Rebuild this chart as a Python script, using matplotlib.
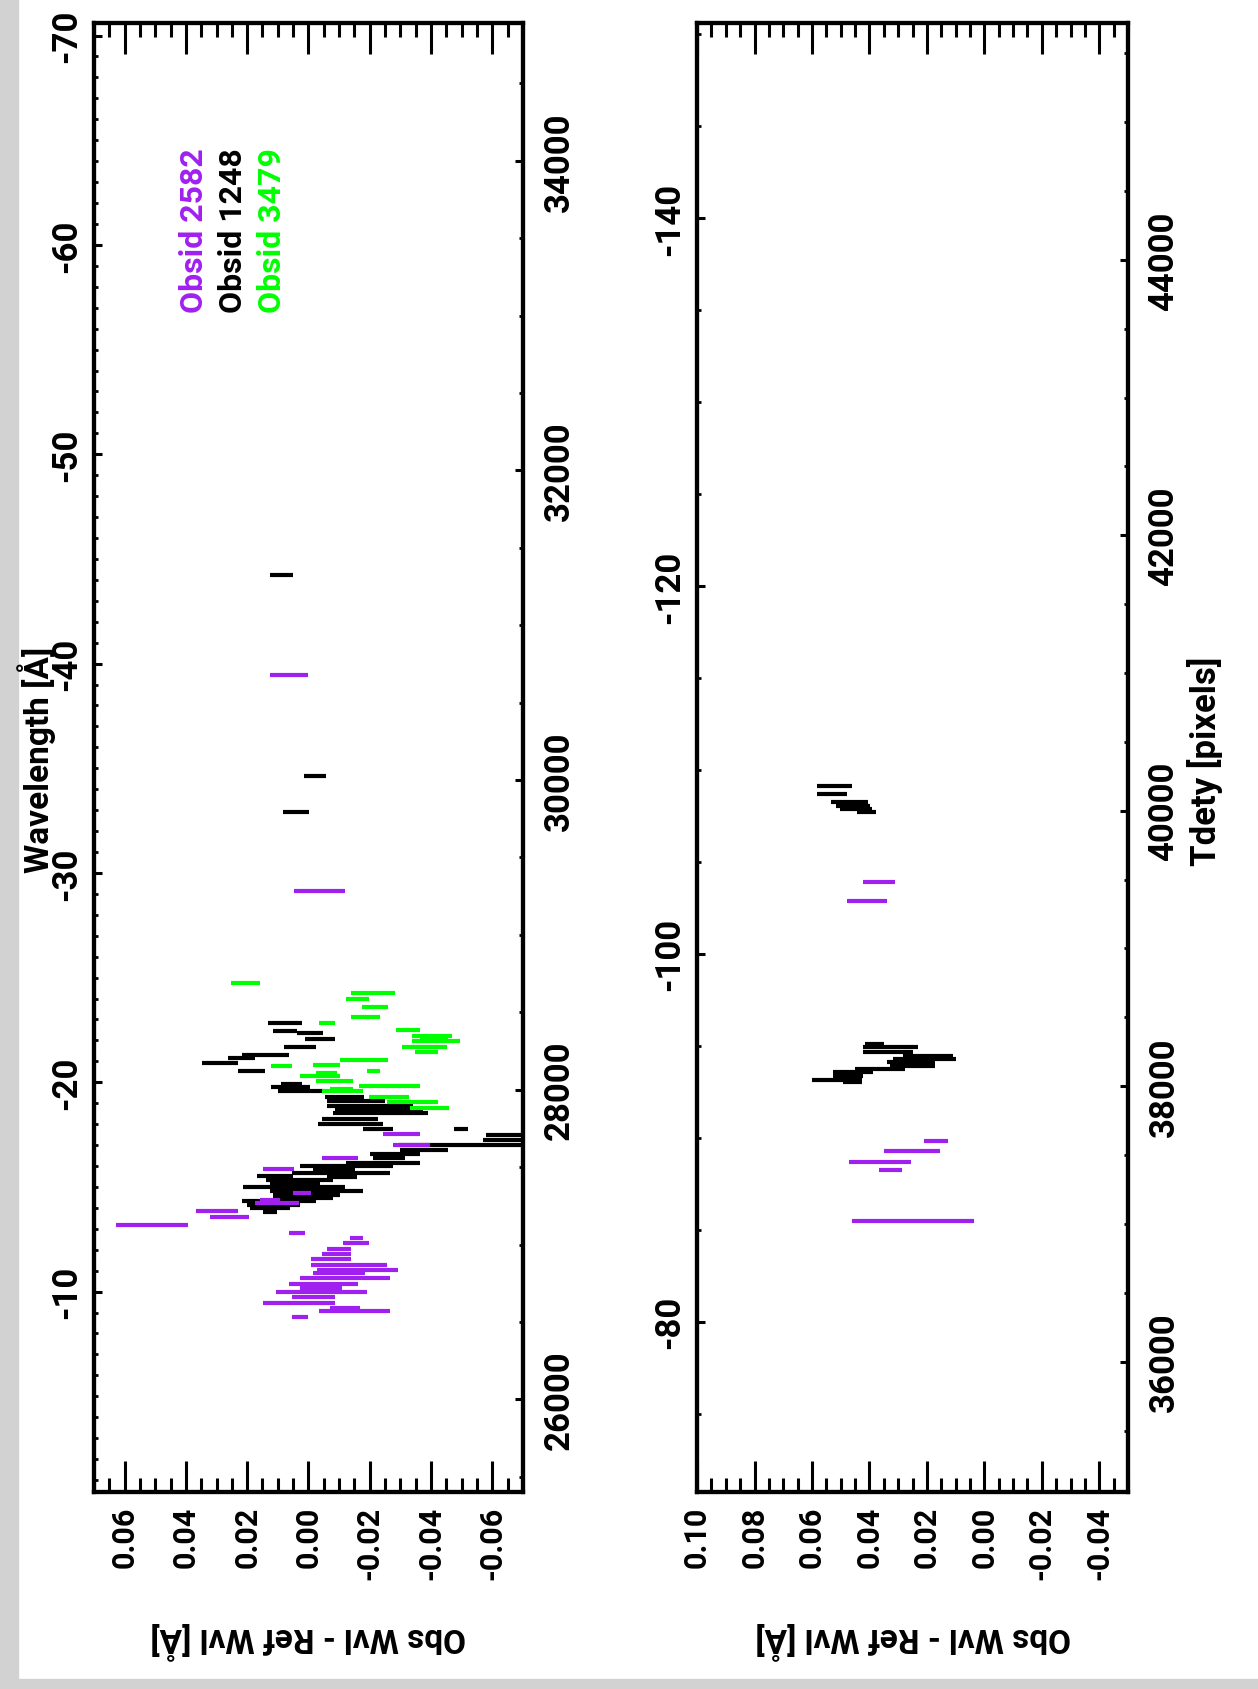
import matplotlib
matplotlib.use('Agg')
import matplotlib.pyplot as plt
from matplotlib.ticker import MultipleLocator, FuncFormatter
from matplotlib.patches import Rectangle

plt.rcParams['font.family'] = ['Roboto', 'DejaVu Sans']
plt.rcParams['font.weight'] = 'bold'

PURPLE = '#a020f0'
GREEN = '#00ff00'
BLACK = '#000000'

# ---- left panel (Tdety 25400-34900) ----
# obsid 2582
l2582_tdety = [30676, 29284, 27713, 27644, 27558, 27487, 27332, 27289, 27266, 27214,
               27177, 27124, 27074, 27042, 27008, 26973, 26939, 26904, 26867, 26835,
               26816, 26784, 26747, 26719, 26693, 26659, 26624, 26590, 26573, 26530]
l2582_off = [0.0064, -0.0036, -0.0303, -0.0337, -0.0103, 0.0098, 0.0022, 0.0126, 0.0102, 0.0299,
             0.0258, 0.0511, 0.0037, -0.0158, -0.0156, -0.0099, -0.0091, -0.0073, -0.0132, -0.0160,
             -0.0100, -0.0119, -0.0050, -0.0040, -0.0042, -0.0016, 0.0031, -0.0119, -0.0150, 0.0028]
l2582_err = [0.0063, 0.0083, 0.0061, 0.0060, 0.0060, 0.0051, 0.0029, 0.0033, 0.0072, 0.0068,
             0.0064, 0.0117, 0.0026, 0.0021, 0.0042, 0.0039, 0.0047, 0.0065, 0.0125, 0.0133,
             0.0084, 0.0147, 0.0113, 0.0068, 0.0148, 0.0071, 0.0118, 0.0049, 0.0116, 0.0026]
# obsid 1248
l1248_tdety = [31323, 30024, 29791, 28434, 28382, 28365, 28330, 28279, 28224, 28207,
               28175, 28122, 28036, 28018, 27989, 27954, 27924, 27892, 27866, 27849,
               27812, 27780, 27745, 27745, 27706, 27676, 27644, 27612, 27584, 27558,
               27526, 27505, 27483, 27461, 27440, 27434, 27418, 27397, 27369, 27343,
               27321, 27300, 27279, 27257, 27235, 27209]
l1248_off = [0.0089, -0.0021, 0.0040, 0.0076, 0.0076, -0.0005, -0.0038, 0.0028, 0.0140, 0.0218,
             0.0289, 0.0185, 0.0054, 0.0059, 0.0025, -0.0117, -0.0155, -0.0201, -0.0231, -0.0236,
             -0.0136, -0.0138, -0.0228, -0.0499, -0.0701, -0.0695, -0.0520, -0.0378, -0.0282, -0.0263,
             -0.0244, -0.0125, -0.0084, -0.0106, 0.0109, -0.0108, 0.0028, 0.0044, 0.0047, -0.0027,
             0.0006, 0.0017, 0.0096, 0.0115, 0.0126, 0.0126]
l1248_err = [0.0038, 0.0035, 0.0042, 0.0055, 0.0039, 0.0043, 0.0049, 0.0052, 0.0078, 0.0044,
             0.0060, 0.0044, 0.0034, 0.0064, 0.0073, 0.0063, 0.0095, 0.0141, 0.0144, 0.0155,
             0.0092, 0.0106, 0.0049, 0.0023, 0.0120, 0.0126, 0.0225, 0.0079, 0.0082, 0.0052,
             0.0120, 0.0152, 0.0068, 0.0160, 0.0060, 0.0049, 0.0109, 0.0082, 0.0166, 0.0152,
             0.0109, 0.0098, 0.0122, 0.0087, 0.0065, 0.0022]
# obsid 3479
l3479_tdety = [28692, 28623, 28589, 28535, 28468, 28434, 28384, 28347, 28330, 28313,
               28279, 28246, 28193, 28159, 28152, 28122, 28107, 28090, 28056, 28022,
               28004, 27989, 27954, 27918, 27881]
l3479_off = [0.0206, -0.0211, -0.0160, -0.0216, -0.0186, -0.0060, -0.0325, -0.0402, -0.0410, -0.0416,
             -0.0378, -0.0386, -0.0181, -0.0059, 0.0089, -0.0212, -0.0059, -0.0038, -0.0085, -0.0264,
             -0.0108, -0.0111, -0.0264, -0.0340, -0.0396]
l3479_err = [0.0048, 0.0073, 0.0039, 0.0042, 0.0048, 0.0026, 0.0039, 0.0065, 0.0046, 0.0079,
             0.0073, 0.0038, 0.0078, 0.0044, 0.0034, 0.0022, 0.0035, 0.0065, 0.0061, 0.0100,
             0.0038, 0.0068, 0.0065, 0.0084, 0.0064]

# ---- right panel (Tdety 35050-45720) ----
r1248_tdety = [40182, 40122, 40064, 40032, 40013, 39989, 38307, 38283, 38248, 38219,
               38198, 38176, 38147, 38125, 38103, 38074, 38045, 38031]
r1248_off = [0.0522, 0.0530, 0.0469, 0.0457, 0.0447, 0.0410, 0.0382, 0.0327, 0.0335, 0.0196,
             0.0208, 0.0255, 0.0250, 0.0363, 0.0457, 0.0475, 0.0513, 0.0459]
r1248_err = [0.0060, 0.0052, 0.0064, 0.0059, 0.0056, 0.0033, 0.0033, 0.0096, 0.0087, 0.0087,
             0.0110, 0.0084, 0.0078, 0.0087, 0.0070, 0.0052, 0.0087, 0.0033]
r2582_tdety = [39481, 39345, 37604, 37527, 37448, 37392, 37024]
r2582_off = [0.0368, 0.0409, 0.0168, 0.0252, 0.0363, 0.0327, 0.0248]
r2582_err = [0.0056, 0.0070, 0.0042, 0.0097, 0.0108, 0.0040, 0.0212]

legend_names = ['Obsid 2582', 'Obsid 1248', 'Obsid 3479']
legend_colors = [PURPLE, BLACK, GREEN]

XTICK_FS = 22
YTICK_FS = 25


def fmt_off(v, pos):
    s = f"{v:.2f}"
    return '0.00' if s == '-0.00' else s


def draw_panel(rect, xlim, tlim, wlim, wl_major, wl_minor, series):
    ax = fig.add_axes(rect)
    for tdety, off, err, col in series:
        lo = [o - e for o, e in zip(off, err)]
        hi = [o + e for o, e in zip(off, err)]
        ax.hlines(tdety, lo, hi, colors=col, linewidth=3.0, capstyle='butt')
    ax.set_xlim(*xlim)
    ax.set_ylim(*tlim)

    ax2 = ax.twinx()
    ax2.set_ylim(*wlim)

    ax.yaxis.tick_right()
    ax.xaxis.set_major_locator(MultipleLocator(0.02))
    ax.xaxis.set_minor_locator(MultipleLocator(0.005))
    ax.xaxis.set_major_formatter(FuncFormatter(fmt_off))
    ax.yaxis.set_major_locator(MultipleLocator(2000))
    ax.yaxis.set_minor_locator(MultipleLocator(500))
    ax2.yaxis.tick_left()
    ax2.yaxis.set_major_locator(MultipleLocator(wl_major))
    ax2.yaxis.set_minor_locator(MultipleLocator(wl_minor))
    ax2.yaxis.set_major_formatter(FuncFormatter(lambda v, p: f"{v:.0f}"))

    ax.tick_params(axis='x', which='major', direction='in', length=22, width=2.2,
                   top=True, bottom=True, labelsize=XTICK_FS, labelrotation=90, pad=10)
    ax.tick_params(axis='x', which='minor', direction='in', length=10, width=2.2,
                   top=True, bottom=True)
    ax.tick_params(axis='y', which='major', direction='in', length=6, width=2.2,
                   left=False, right=True, labelleft=False, labelright=True,
                   labelsize=YTICK_FS, labelrotation=90, pad=14)
    ax.tick_params(axis='y', which='minor', direction='in', length=3, width=2.0,
                   left=False, right=True)
    ax2.tick_params(axis='y', which='major', direction='in', length=6, width=2.2,
                    left=True, right=False, labelleft=True, labelright=False,
                    labelsize=YTICK_FS, labelrotation=90, pad=8)
    ax2.tick_params(axis='y', which='minor', direction='in', length=3, width=2.0,
                    left=True, right=False)
    for a in (ax, ax2):
        for sp in a.spines.values():
            sp.set_linewidth(3)
    return ax, ax2


fig = plt.figure(figsize=(12.58, 16.90), dpi=100)
fig.patch.set_facecolor('white')
# grey page background strips
fig.add_artist(Rectangle((0, 0), 0.014, 1, transform=fig.transFigure, color='#d2d2d2', zorder=-5))
fig.add_artist(Rectangle((0, 0), 1, 0.006, transform=fig.transFigure, color='#d2d2d2', zorder=-5))

axL, axL2 = draw_panel([0.0747, 0.1166, 0.3410, 0.8692], (0.07, -0.07), (25402, 34890),
                       (-0.43, -70.6), 10, 1,
                       [(l1248_tdety, l1248_off, l1248_err, BLACK),
                        (l2582_tdety, l2582_off, l2582_err, PURPLE),
                        (l3479_tdety, l3479_off, l3479_err, GREEN)])
axR, axR2 = draw_panel([0.5541, 0.1166, 0.3426, 0.8692], (0.10, -0.05), (35054, 45720),
                       (-70.75, -150.6), 20, 5,
                       [(r1248_tdety, r1248_off, r1248_err, BLACK),
                        (r2582_tdety, r2582_off, r2582_err, PURPLE)])

for i, (name, col) in enumerate(zip(legend_names, legend_colors)):
    axL.text(0.233 + 0.091 * i, 0.803, name, color=col, rotation=90, fontsize=23,
             fontweight='bold', ha='center', va='bottom', transform=axL.transAxes)

fig.text(0.0291, 0.5503, 'Wavelength [Å]', rotation=90, fontsize=24, fontweight='bold',
         ha='center', va='center')
fig.text(0.958, 0.5497, 'Tdety [pixels]', rotation=90, fontsize=25, fontweight='bold',
         ha='center', va='center')
for xc in (0.245, 0.726):
    fig.text(xc, 0.0296, 'Obs Wvl - Ref Wvl [Å]', rotation=180, fontsize=24,
             fontweight='bold', ha='center', va='center')

# centre the rotated y tick labels on their ticks
fig.canvas.draw()
for a in (axL, axL2, axR, axR2):
    for lab in a.get_yticklabels():
        lab.set_verticalalignment('center')

fig.savefig('out.png', dpi=100, facecolor='white')
